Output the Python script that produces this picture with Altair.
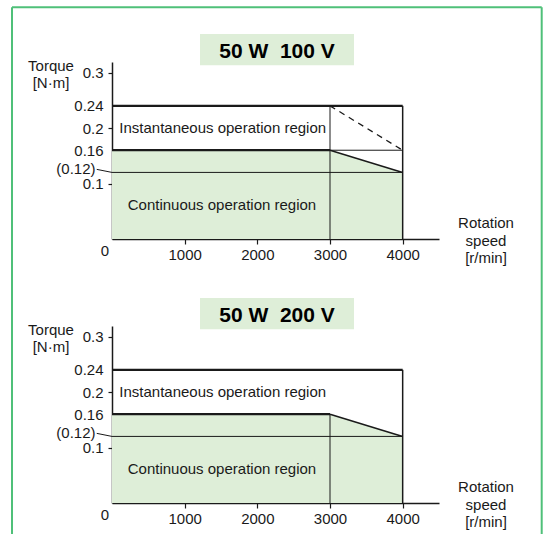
import altair as alt
import pandas as pd

FONT = "Liberation Sans"
INK = "#1a1a1a"
GREEN_FILL = "#deeed8"
FRAME = "#4fc079"

# ---- data ----
panel_titles = ["50 W\u00a0 100 V", "50 W\u00a0 200 V"]
show_dashed = [True, False]

speed = [0, 3000, 4000]             # r/min
cont_torque = [0.16, 0.16, 0.12]    # continuous torque limit, N·m
inst_max = 0.24                     # instantaneous max torque
inst_end_100v = 0.16                # instantaneous torque at 4000 r/min (100 V)
rated_speed = 3000
max_speed = 4000
rated_torque_low = 0.12

x_ticks = [1000, 2000, 3000, 4000]
y_ticks = [0.1, 0.12, 0.16, 0.2, 0.24, 0.3]
region_labels = ["Instantaneous operation region", "Continuous operation region"]

xs = alt.Scale(domain=[0, 4500], nice=False, zero=False)
ys = alt.Scale(domain=[0, 0.319], nice=False, zero=False)

x_axis = alt.Axis(values=x_ticks, title=None, grid=False, tickSize=5, labelPadding=3,
                  format="d",
                  labelFontSize=15, labelFont=FONT, labelColor=INK, domainColor=INK,
                  domainWidth=1.5, tickColor=INK, tickWidth=1.2, labelFlush=False)
is012 = "abs(datum.value-0.12)<0.001"
y_axis = alt.Axis(values=y_ticks, title=None, grid=False, tickSize=4, format="~g",
                  labelExpr=f"{is012} ? '(0.12)' : datum.label",
                  labelFontSize=15, labelFont=FONT, labelColor=INK, domainColor=INK,
                  domainWidth=1.5, tickWidth=1.2, labelOverlap=False,
                  tickColor={"condition": {"test": "round(datum.value*100)%10===0", "value": INK},
                             "value": "transparent"},
                  labelPadding={"condition": {"test": is012, "value": 13}, "value": 5},
                  labelOffset={"condition": {"test": is012, "value": -4}, "value": 0})


def X(f):
    return alt.X(f, type="quantitative", scale=xs, axis=x_axis)


def Y(f):
    return alt.Y(f, type="quantitative", scale=ys, axis=y_axis)


def make_panel(title, dashed, with_frame):
    area_df = pd.DataFrame({"speed": speed, "torque": cont_torque})
    area = alt.Chart(area_df).mark_area(color=GREEN_FILL, opacity=1).encode(
        x=X("speed"), y=Y("torque"))

    thick = pd.DataFrame({
        "x": [0, 0], "y": [inst_max, cont_torque[0]],
        "x2": [max_speed, rated_speed], "y2": [inst_max, cont_torque[1]]})
    medium = pd.DataFrame({
        "x": [max_speed, rated_speed], "y": [0, cont_torque[1]],
        "x2": [max_speed, max_speed], "y2": [inst_max, cont_torque[2]]})
    thin_rows = {
        "x": [0, rated_speed], "y": [rated_torque_low, 0],
        "x2": [max_speed, rated_speed],
        "y2": [rated_torque_low, inst_max if dashed else cont_torque[1]]}
    if dashed:
        thin_rows["x"].append(rated_speed)
        thin_rows["y"].append(cont_torque[1])
        thin_rows["x2"].append(max_speed)
        thin_rows["y2"].append(cont_torque[1])
    thin = pd.DataFrame(thin_rows)

    def seg(df, width, dash=None):
        kw = dict(color=INK, strokeWidth=width)
        if dash:
            kw["strokeDash"] = dash
        return alt.Chart(df).mark_rule(**kw).encode(
            x=X("x"), y=Y("y"), x2="x2", y2="y2")

    layers = [area, seg(thin, 1), seg(medium, 1.5), seg(thick, 2.2)]
    if dashed:
        dash_df = pd.DataFrame({"x": [rated_speed], "y": [inst_max],
                                "x2": [max_speed], "y2": [inst_end_100v]})
        layers.append(seg(dash_df, 1.3, [6, 5]))

    # leader line for the (0.12) label
    lead = pd.DataFrame({"x": [-210], "y": [0.1255], "x2": [0], "y2": [rated_torque_low]})
    layers.append(alt.Chart(lead).mark_rule(color=INK, strokeWidth=1).encode(
        x=X("x"), y=Y("y"), x2="x2", y2="y2"))

    # region labels
    inst_lab = pd.DataFrame({"t": [region_labels[0]], "x": [100], "y": [0.2]})
    cont_lab = pd.DataFrame({"t": [region_labels[1]], "x": [1513], "y": [0.061]})
    layers.append(alt.Chart(inst_lab).mark_text(
        font=FONT, fontSize=15, color=INK, align="left", baseline="middle").encode(
        x=X("x"), y=Y("y"), text="t"))
    layers.append(alt.Chart(cont_lab).mark_text(
        font=FONT, fontSize=15, color=INK, align="center", baseline="middle").encode(
        x=X("x"), y=Y("y"), text="t"))

    # origin "0"
    layers.append(alt.Chart(pd.DataFrame({"t": ["0"]})).mark_text(
        font=FONT, fontSize=15, color=INK, align="center", baseline="middle").encode(
        x=alt.value(-7), y=alt.value(189), text="t"))

    # axis titles
    layers.append(alt.Chart(pd.DataFrame({"t": ["Torque\n[N·m]"]})).mark_text(
        font=FONT, fontSize=15, color=INK, align="center", baseline="middle",
        lineBreak="\n", lineHeight=17).encode(
        x=alt.value(-61), y=alt.value(4), text="t"))
    layers.append(alt.Chart(pd.DataFrame({"t": ["Rotation\nspeed\n[r/min]"]})).mark_text(
        font=FONT, fontSize=15, color=INK, align="center", baseline="middle",
        lineBreak="\n", lineHeight=17.5).encode(
        x=alt.value(374), y=alt.value(161), text="t"))

    # title box
    tdf = pd.DataFrame({"t": [title]})
    layers.append(alt.Chart(tdf).mark_rect(color=GREEN_FILL).encode(
        x=alt.value(88), x2=alt.value(242), y=alt.value(-28), y2=alt.value(3.3)))
    layers.append(alt.Chart(tdf).mark_text(
        font=FONT, fontSize=21, fontWeight="bold", color="#000", align="center",
        baseline="middle").encode(x=alt.value(165), y=alt.value(-10), text="t"))

    if with_frame:
        fr = pd.DataFrame({"k": [0]})
        common = dict(color=FRAME, strokeWidth=2)
        layers.append(alt.Chart(fr).mark_rule(**common).encode(
            x=alt.value(-100), x2=alt.value(-100), y=alt.value(-54.7), y2=alt.value(472)))
        layers.append(alt.Chart(fr).mark_rule(**common).encode(
            x=alt.value(429.7), x2=alt.value(429.7), y=alt.value(-54.7), y2=alt.value(472)))
        layers.append(alt.Chart(fr).mark_rule(**common).encode(
            x=alt.value(-100), x2=alt.value(429.7), y=alt.value(-54.7), y2=alt.value(-54.7)))

    return alt.layer(*layers).properties(width=327, height=177)


p1 = make_panel(panel_titles[0], show_dashed[0], True)
p2 = make_panel(panel_titles[1], show_dashed[1], False)

chart = alt.vconcat(p1, p2, spacing=87, bounds="flush").properties(
    padding={"left": 11, "top": 6, "right": 0, "bottom": 0},
    background="white",
).configure_view(stroke=None)

chart.save("out.html", embed_options={"renderer": "svg", "actions": False})
